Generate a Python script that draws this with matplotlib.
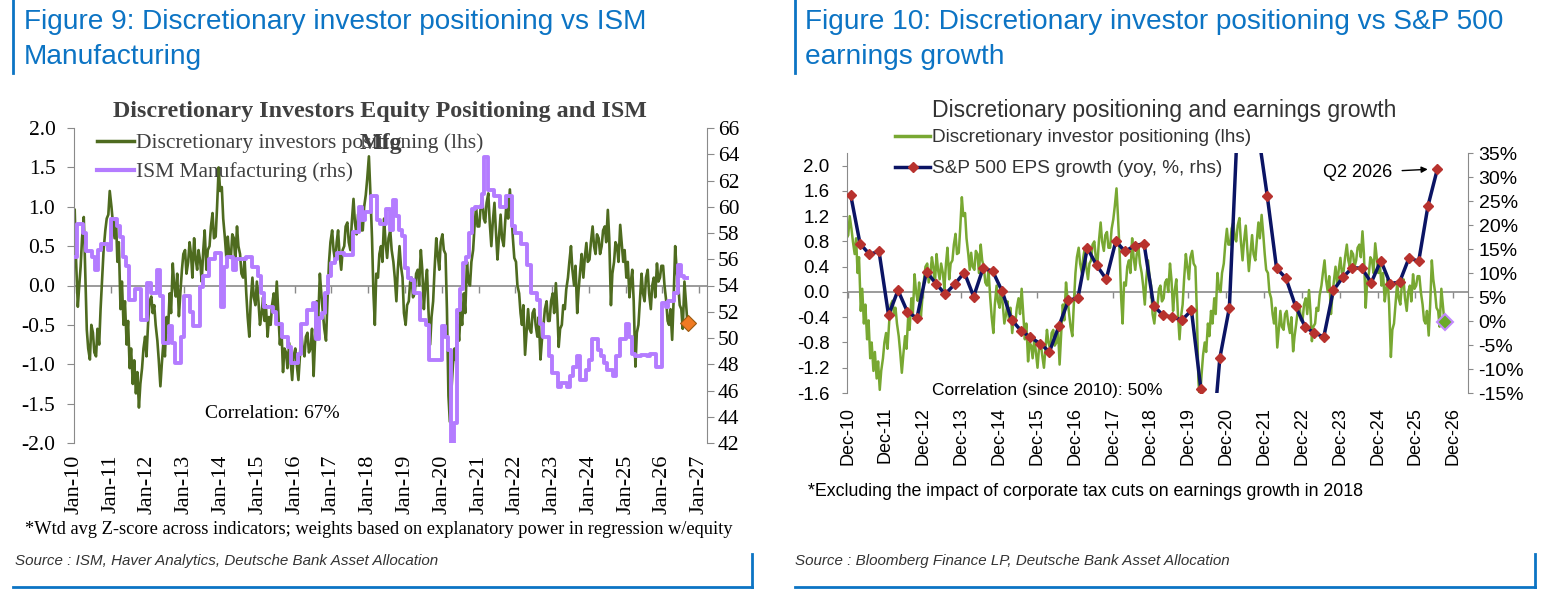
import numpy as np
import pandas as pd
import matplotlib
matplotlib.use("Agg")
import matplotlib.pyplot as plt
import matplotlib.dates as mdates
from matplotlib.lines import Line2D
from matplotlib.ticker import FixedLocator, FuncFormatter

# ---------------- data ----------------
# Discretionary investor positioning (z-score), twice a month from Jan-2010
pos_2010 = [0.96, 0.3, -0.27, 0.0, 0.24, 0.6, 0.87, 0.2, -0.56, -0.8, -0.94, -0.5,
            -0.6, -0.85, -0.9, -0.55, -0.75, -0.3, 0.1, 0.45, 0.7, 0.85, 0.9, 1.2]
pos_2011 = [1.0, 0.8, 0.6, 0.85, 0.3, 0.55, -0.3, 0.05, -0.5, -0.2, -0.75, -0.45,
            -1.05, -0.8, -1.25, -0.95, -1.37, -1.1, -1.55, -1.25, -1.05, -0.8, -0.65, -0.9]
pos_2012 = [-0.45, -0.2, -0.14, -0.35, -0.25, -0.5, -0.7, -0.95, -1.28, -1.0, -0.7, -0.9,
            -0.4, -0.6, -0.1, -0.35, 0.28, 0.0, -0.14, 0.15, -0.39, -0.1, 0.2, 0.4]
pos_2013 = [0.45, 0.15, 0.3, 0.55, 0.4, 0.1, 0.6, 0.35, 0.2, 0.45, 0.3, 0.05,
            0.45, 0.7, 0.2, 0.45, 0.5, 0.75, 0.92, 0.6, 0.62, 1.0, 1.5, 1.2]
pos_2014 = [1.25, 0.85, 0.6, 0.35, 0.62, 0.4, 0.35, 0.65, 0.6, 0.3, 0.75, 0.5,
            0.4, 0.15, 0.1, 0.35, -0.1, -0.4, -0.65, -0.2, 0.1, -0.15, -0.25, 0.05]
pos_2015 = [-0.22, -0.5, -0.35, -0.15, -0.45, -0.25, -0.65, -0.4, -0.5, -0.25, -0.1, -0.35,
            0.05, -0.3, -0.75, -0.5, -1.1, -0.8, -0.85, -1.05, -0.73, -0.95, -1.2, -0.9]
pos_2016 = [-0.8, -1.0, -1.2, -0.9, -0.6, -0.8, -0.9, -0.65, -0.6, -0.85, -0.8, -0.55,
            -1.15, -0.7, -0.2, -0.45, 0.15, -0.1, -0.35, -0.55, -0.7, -0.2, 0.3, 0.55]
pos_2017 = [0.7, 0.45, 0.3, 0.55, 0.7, 0.4, 0.2, 0.45, 0.5, 0.75, 0.8, 0.55,
            0.45, 0.8, 1.1, 0.8, 0.65, 0.9, 0.95, 0.7, 0.7, 1.0, 1.15, 1.35]
pos_2018 = [1.64, 1.2, 0.6, -0.1, -0.5, 0.15, 0.1, 0.4, 0.5, 0.3, 0.85, 0.55,
            0.35, 0.6, 0.7, 0.45, 0.3, 0.1, -0.2, 0.2, 0.5, 0.25, 0.1, -0.35]
pos_2019 = [-0.5, -0.25, -0.2, 0.05, 0.1, -0.15, -0.1, 0.15, 0.2, 0.0, 0.45, 0.2,
            -0.3, 0.0, 0.2, -0.3, -0.75, -0.4, -0.2, 0.2, 0.6, 0.4, 0.2, 0.55]
pos_2020 = [0.65, 0.45, 0.4, -0.3, -1.4, -1.73, -1.3, -1.0, -0.8, -0.95, -0.5, -0.7,
            -0.3, -0.5, -0.1, -0.35, 0.3, 0.05, 0.0, 0.3, 0.45, 0.75, 1.0, 0.75]
pos_2021 = [0.75, 1.0, 1.1, 0.85, 0.8, 1.05, 1.17, 0.8, 0.5, 0.8, 1.05, 0.7,
            0.33, 0.6, 0.9, 0.6, 0.5, 0.8, 1.1, 0.85, 1.22, 0.95, 0.6, 0.35]
pos_2022 = [0.3, 0.0, -0.1, -0.35, -0.5, -0.25, -0.88, -0.6, -0.3, -0.55, -0.6, -0.35,
            -0.3, -0.5, -0.65, -0.4, -0.94, -0.7, -0.5, -0.3, -0.2, -0.45, -0.45, -0.2]
pos_2023 = [-0.1, -0.35, 0.03, -0.3, -0.78, -0.55, -0.5, -0.25, -0.3, -0.05, 0.1, 0.3,
            0.5, 0.2, 0.0, 0.25, -0.35, -0.05, 0.2, 0.4, 0.1, 0.35, 0.54, 0.3]
pos_2024 = [0.33, 0.55, 0.75, 0.5, 0.4, 0.65, 0.6, 0.4, 0.5, 0.7, 0.75, 0.55,
            0.96, 0.6, -0.25, 0.15, 0.3, 0.55, 0.5, 0.3, 0.77, 0.55, 0.3, 0.45]
pos_2025 = [0.1, 0.3, -0.15, 0.05, 0.2, -0.2, -1.03, -0.6, -0.5, -0.2, 0.15, -0.1,
            -0.2, 0.1, 0.2, -0.1, -0.3, 0.0, 0.1, -0.15, 0.28, 0.05, 0.1, 0.25]
pos_2026 = [0.25, 0.0, -0.2, -0.45, -0.5, -0.3, -0.69, -0.2, 0.5, 0.2, 0.0, -0.25,
            -0.3, -0.55, 0.05, -0.2, -0.5]
positioning = (pos_2010 + pos_2011 + pos_2012 + pos_2013 + pos_2014 + pos_2015 +
               pos_2016 + pos_2017 + pos_2018 + pos_2019 + pos_2020 + pos_2021 +
               pos_2022 + pos_2023 + pos_2024 + pos_2025 + pos_2026)
latest_positioning = -0.47

# ISM Manufacturing, monthly from Jan-2010
ism_2010 = [56.2, 58.7, 58.7, 58.0, 56.6, 56.6, 56.2, 55.2, 56.7, 57.2, 57.2, 56.7]
ism_2011 = [59.1, 59.1, 58.5, 57.7, 56.2, 55.5, 52.9, 52.9, 53.7, 53.7, 51.4, 51.4]
ism_2012 = [54.2, 53.4, 53.4, 55.2, 53.2, 49.6, 49.6, 50.9, 49.6, 48.1, 48.1, 50.1]
ism_2013 = [53.2, 53.2, 52.0, 50.9, 50.9, 53.9, 54.7, 54.7, 56.0, 56.0, 56.5, 56.5]
ism_2014 = [52.4, 55.4, 56.2, 56.2, 55.2, 56.0, 56.0, 56.0, 56.2, 56.2, 55.4, 55.4]
ism_2015 = [54.7, 53.4, 52.4, 52.4, 52.4, 52.0, 51.1, 51.1, 50.1, 50.1, 49.3, 48.1]
ism_2016 = [48.1, 48.8, 51.1, 51.1, 52.1, 52.1, 52.7, 49.9, 51.5, 51.9, 53.4, 54.7]
ism_2017 = [55.7, 56.0, 56.5, 56.5, 56.3, 56.3, 56.3, 58.1, 58.1, 60.0, 59.0, 59.6]
ism_2018 = [59.6, 60.8, 60.8, 59.0, 58.7, 58.7, 59.8, 58.2, 60.5, 59.3, 58.2, 57.8]
ism_2019 = [55.3, 54.6, 54.4, 53.4, 53.4, 51.4, 51.4, 51.0, 48.3, 48.3, 48.3, 48.3]
ism_2020 = [50.9, 50.1, 49.1, 42.0, 43.5, 52.1, 53.7, 55.7, 56.2, 58.0, 59.8, 60.0]
ism_2021 = [60.0, 61.0, 63.8, 61.3, 61.3, 60.8, 60.8, 60.0, 60.0, 60.8, 60.8, 58.5]
ism_2022 = [58.0, 58.0, 57.2, 57.2, 55.6, 53.4, 53.4, 52.9, 51.1, 50.1, 50.1, 48.6]
ism_2023 = [47.3, 47.3, 46.3, 46.6, 46.6, 46.3, 47.1, 47.8, 48.6, 46.8, 46.8, 47.6]
ism_2024 = [48.3, 49.9, 49.9, 49.1, 48.6, 48.1, 47.6, 47.6, 47.1, 48.6, 49.9, 49.9]
ism_2025 = [51.1, 50.1, 48.8, 48.6, 48.6, 48.7, 48.7, 48.6, 48.8, 48.8, 47.8, 47.8]
ism_2026 = [52.7, 52.4, 52.8, 52.8, 53.4, 55.6, 54.7, 54.6, 54.6]
ism = (ism_2010 + ism_2011 + ism_2012 + ism_2013 + ism_2014 + ism_2015 + ism_2016 +
       ism_2017 + ism_2018 + ism_2019 + ism_2020 + ism_2021 + ism_2022 + ism_2023 +
       ism_2024 + ism_2025 + ism_2026)

# S&P 500 EPS growth (yoy %, quarterly, Q4-2010 .. Q2-2026)
eps_growth = [26.2, 16.1, 13.9, 14.5, 1.2, 6.4, 1.9, 0.6, 10.3, 7.8, 5.6, 7.7,
              10.1, 5.1, 11.0, 10.4, 6.2, 0.3, -2.0, -3.4, -4.7, -6.4, -1.1, 4.3,
              4.8, 15.2, 11.6, 8.7, 16.6, 14.5, 15.7, 16.1, 3.2, 1.2, 0.8, 0.2,
              2.2, -14.2, -31.0, -7.7, 2.8, 47.0, 90.0, 40.0, 26.1, 11.0, 8.9, 3.1,
              -1.2, -2.5, -3.3, 6.4, 9.1, 11.1, 11.0, 8.0, 12.6, 7.8, 8.1, 13.2,
              12.4, 24.0, 31.7]

left_years = list(range(2010, 2028))
right_years = list(range(2010, 2027))

pos_dates = pd.date_range("2010-01-01", periods=len(positioning), freq="SMS") + pd.Timedelta(days=7)
ism_dates = pd.period_range("2010-01", periods=len(ism), freq="M").to_timestamp()
eps_dates = pd.period_range("2010Q4", periods=len(eps_growth), freq="Q").to_timestamp(how="end")

# ---------------- style ----------------
W, H = 1541, 593
BLUE = "#0C74C4"
DKGREEN = "#4E6B1F"
LTGREEN = "#78A832"
PURPLE = "#B47CFF"
NAVY = "#0B1464"
RED = "#B8322E"
GRAY = "#8A8A8A"
SERIF = ["Liberation Serif", "DejaVu Serif"]
SANS = ["Liberation Sans", "DejaVu Sans"]

fig = plt.figure(figsize=(W / 100, H / 100), dpi=100)
fig.patch.set_facecolor("white")


def fx(px):
    return px / W


def fy(py):
    return 1 - py / H


# ---------------- headers & frames ----------------
HDR = 20.2
fig.text(fx(24), fy(22), "Figure 9: Discretionary investor positioning vs ISM", color=BLUE,
         fontsize=HDR, family=SANS, va="center", ha="left")
fig.text(fx(24), fy(57), "Manufacturing", color=BLUE, fontsize=HDR, family=SANS, va="center", ha="left")
fig.text(fx(805), fy(22), "Figure 10: Discretionary investor positioning vs S&P 500", color=BLUE,
         fontsize=HDR, family=SANS, va="center", ha="left")
fig.text(fx(805), fy(57), "earnings growth", color=BLUE, fontsize=HDR, family=SANS, va="center", ha="left")

for x0, x1 in [(13, 752), (795, 1535)]:
    fig.add_artist(Line2D([fx(x0), fx(x0)], [fy(0), fy(73)], color=BLUE, lw=2))
    fig.add_artist(Line2D([fx(x0), fx(x1)], [fy(587), fy(587)], color=BLUE, lw=2))
    fig.add_artist(Line2D([fx(x1), fx(x1)], [fy(554), fy(587)], color=BLUE, lw=2))

fig.text(fx(15), fy(561), "Source : ISM, Haver Analytics, Deutsche Bank Asset Allocation",
         fontsize=10.9, family=SANS, style="italic", color="#333333", va="center")
fig.text(fx(795), fy(561), "Source : Bloomberg Finance LP, Deutsche Bank Asset Allocation",
         fontsize=10.9, family=SANS, style="italic", color="#333333", va="center")

# ---------------- left chart ----------------
ax1 = fig.add_axes([fx(74), fy(443), fx(707) - fx(74), fy(128) - fy(443)])
ax1.plot(pos_dates, positioning, color=DKGREEN, lw=1.9, zorder=2)
ax1.axhline(0, color=GRAY, lw=1.2, zorder=1)
ax1.set_ylim(-2, 2)
ax1.set_xlim(pd.Timestamp("2010-01-01"), pd.Timestamp("2027-03-20"))
ltick = [pd.Timestamp(f"{y}-01-01") for y in left_years]
ax1.plot(ltick, [0] * len(ltick), ls="none", marker=3, ms=5, color=GRAY, mew=1.0, zorder=1)
ax1.plot([pos_dates[-1]], [latest_positioning], ls="none", marker="D", ms=8,
         mfc="#F07A22", mec="#9A5A10", mew=0.8, zorder=6)
ax1.xaxis.set_major_locator(FixedLocator(mdates.date2num(ltick)))
ax1.set_xticklabels([f"Jan-{y % 100:02d}" for y in left_years], rotation=90, family=SERIF, fontsize=16)
ax1.tick_params(axis="x", length=0, pad=8.5)
ax1.set_yticks(np.arange(-2, 2.01, 0.5))
ax1.yaxis.set_major_formatter(FuncFormatter(lambda v, p: f"{v:.1f}"))
ax1.tick_params(axis="y", direction="out", length=4.8, color=GRAY, labelsize=15.5, pad=8.6)
for lbl in ax1.get_yticklabels():
    lbl.set_family(SERIF)
for s in ["top", "right", "bottom"]:
    ax1.spines[s].set_visible(False)
ax1.spines["left"].set_color(GRAY)
ax1.patch.set_alpha(0)

ax1r = ax1.twinx()
ax1r.plot(ism_dates, ism, color=PURPLE, lw=2.8, drawstyle="steps-post", zorder=3)
ax1r.set_ylim(42, 66)
ax1r.set_yticks(np.arange(42, 66.1, 2))
ax1r.yaxis.set_major_formatter(FuncFormatter(lambda v, p: f"{v:.0f}"))
ax1r.tick_params(axis="y", direction="out", length=4.8, color=GRAY, labelsize=15.5, pad=3)
for lbl in ax1r.get_yticklabels():
    lbl.set_family(SERIF)
for s in ["top", "left", "bottom"]:
    ax1r.spines[s].set_visible(False)
ax1r.spines["right"].set_color(GRAY)

leg1 = ax1r.legend([Line2D([], [], color=DKGREEN, lw=2.5), Line2D([], [], color=PURPLE, lw=3)],
                   ["Discretionary investors positioning (lhs)", "ISM Manufacturing (rhs)"],
                   loc="upper left", bbox_to_anchor=(fx(97), fy(133)), bbox_transform=fig.transFigure,
                   frameon=False, prop={"family": SERIF, "size": 15.5}, handlelength=1.7,
                   handletextpad=0.1, labelspacing=0.42, borderaxespad=0, borderpad=0)
for t in leg1.get_texts():
    t.set_color("#404040")

fig.text(fx(380), fy(112), "Discretionary Investors Equity Positioning and ISM", family=SERIF,
         fontweight="bold", fontsize=17.3, color="#404040", ha="center", va="center")
fig.text(fx(381), fy(143), "Mfg", family=SERIF, fontweight="bold", fontsize=17.3, color="#404040",
         ha="center", va="center")
fig.text(fx(205), fy(413), "Correlation: 67%", family=SERIF, fontsize=14, color="black", va="center")
fig.text(fx(25), fy(530), "*Wtd avg Z-score across indicators; weights based on explanatory power in regression w/equity",
         family=SERIF, fontsize=13.2, color="black", va="center")

# ---------------- right chart ----------------
ax2 = fig.add_axes([fx(847), fy(393), fx(1468) - fx(847), fy(153) - fy(393)])
ax2.plot(pos_dates, positioning, color=LTGREEN, lw=1.8, zorder=2)
ax2.axhline(0, color=GRAY, lw=1.2, zorder=1)
ax2.set_ylim(-1.6, 2.2)
ax2.set_xlim(pd.Timestamp("2010-11-26"), pd.Timestamp("2027-04-22"))
rtick = [pd.Timestamp(f"{y}-12-01") for y in right_years]
ax2.plot(rtick, [0] * len(rtick), ls="none", marker=3, ms=4, color=GRAY, mew=1.0, zorder=1)
ax2.xaxis.set_major_locator(FixedLocator(mdates.date2num(rtick)))
ax2.set_xticklabels([f"Dec-{y % 100:02d}" for y in right_years], rotation=90, family=SANS, fontsize=13)
ax2.tick_params(axis="x", length=0, pad=10)
ax2.set_yticks(np.arange(-1.6, 2.01, 0.4))
ax2.yaxis.set_major_formatter(FuncFormatter(lambda v, p: f"{v:.1f}" if abs(v) > 1e-9 else "0.0"))
ax2.tick_params(axis="y", direction="out", length=3.6, color=GRAY, labelsize=13.5, pad=9)
for lbl in ax2.get_yticklabels():
    lbl.set_family(SANS)
for s in ["top", "right", "bottom"]:
    ax2.spines[s].set_visible(False)
ax2.spines["left"].set_color(GRAY)
ax2.patch.set_alpha(0)

ax2r = ax2.twinx()
ax2r.plot(eps_dates, eps_growth, color=NAVY, lw=2.5, marker="D", ms=5, mfc=RED, mec=RED, zorder=3)
ax2r.set_ylim(-15, 35)
ax2r.set_yticks(np.arange(-15, 35.1, 5))
ax2r.yaxis.set_major_formatter(FuncFormatter(lambda v, p: f"{v:.0f}%"))
ax2r.tick_params(axis="y", direction="out", length=3.6, color=GRAY, labelsize=14, pad=4)
for lbl in ax2r.get_yticklabels():
    lbl.set_family(SANS)
for s in ["top", "left", "bottom"]:
    ax2r.spines[s].set_visible(False)
ax2r.spines["right"].set_color(GRAY)
ax2.plot([pos_dates[-1]], [latest_positioning], ls="none", marker="D", ms=8.5, mfc="#6BAA2A",
         mec="#C28AFF", mew=1.5, zorder=5)

ax2r.annotate("Q2 2026", xy=(eps_dates[-1], eps_growth[-1]), xytext=(-45, -4), textcoords="offset pixels",
              ha="right", va="center", fontsize=13, family=SANS, color="black",
              arrowprops=dict(arrowstyle="-|>", color="black", lw=1.0, shrinkA=5, shrinkB=7, mutation_scale=9))

leg2 = ax2r.legend([Line2D([], [], color=LTGREEN, lw=2.5),
                    Line2D([], [], color=NAVY, lw=2.5, marker="D", ms=5, mfc=RED, mec=RED)],
                   ["Discretionary investor positioning (lhs)", "S&P 500 EPS growth (yoy, %, rhs)"],
                   loc="upper left", bbox_to_anchor=(fx(895), fy(129)), bbox_transform=fig.transFigure,
                   frameon=False, prop={"family": SANS, "size": 13.7}, handlelength=1.85,
                   handletextpad=0.12, labelspacing=0.72, borderaxespad=0, borderpad=0)
for t in leg2.get_texts():
    t.set_color("#333333")

fig.text(fx(1164), fy(110), "Discretionary positioning and earnings growth", family=SANS, fontsize=16.6,
         color="#333333", ha="center", va="center")
fig.text(fx(932), fy(390), "Correlation (since 2010): 50%", family=SANS, fontsize=12.5, color="black", va="center")
fig.text(fx(808), fy(491), "*Excluding the impact of corporate tax cuts on earnings growth in 2018",
         family=SANS, fontsize=12.8, color="black", va="center")

fig.savefig("out.png", dpi=100, facecolor="white")
